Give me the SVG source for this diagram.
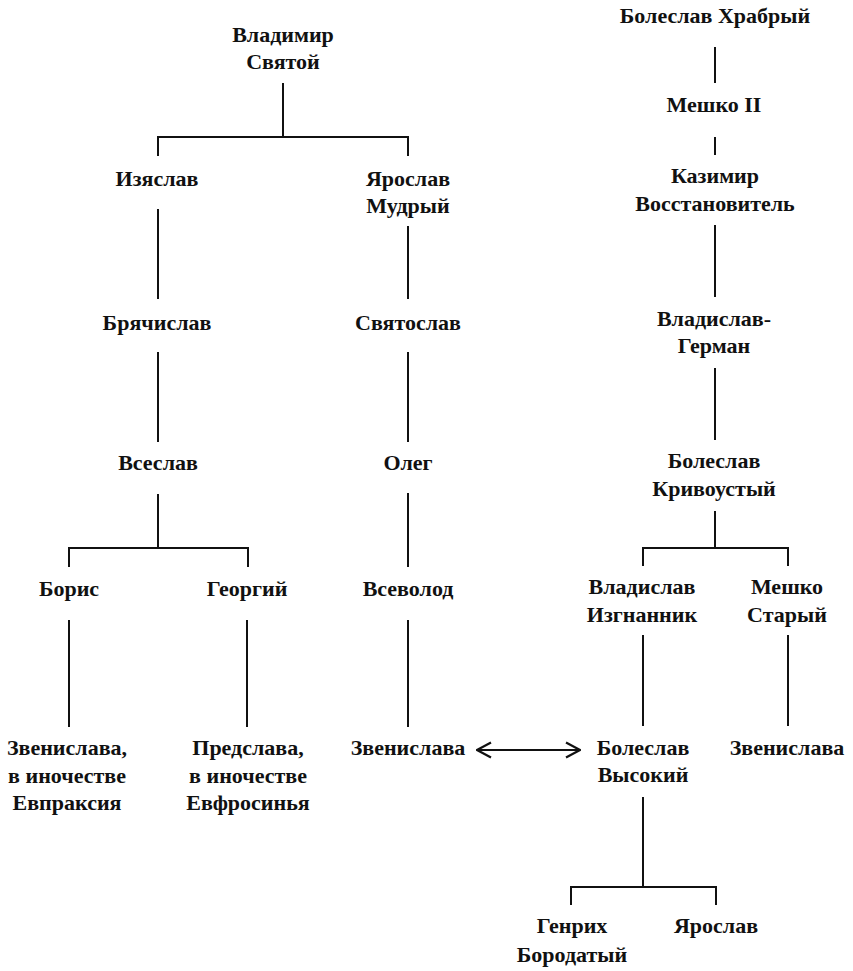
<svg xmlns="http://www.w3.org/2000/svg" width="853" height="971" viewBox="0 0 853 971">
<style>
text{font-family:"Liberation Serif","DejaVu Serif",serif;font-size:22px;font-weight:bold;fill:#111;text-anchor:middle}
.c line,.c path{stroke:#111;stroke-width:2;fill:none}
</style>
<defs>
<marker id="ah" viewBox="0 0 16 18" refX="15" refY="9" markerWidth="16" markerHeight="18" markerUnits="userSpaceOnUse" orient="auto-start-reverse">
<path d="M1,1.5 L15,9 L1,16.5" fill="none" stroke="#111" stroke-width="2.2"/>
</marker>
</defs>
<rect width="853" height="971" fill="#fff"/>
<g class="c" id="connectors">
<path d="M283,83 V137 M158,156 V137 H408 V156"/>
<line x1="158" y1="209" x2="158" y2="299"/>
<line x1="408" y1="226" x2="408" y2="299"/>
<line x1="158" y1="352" x2="158" y2="442"/>
<line x1="408" y1="352" x2="408" y2="442"/>
<path d="M158,494 V548 M69,567 V548 H248 V567"/>
<line x1="408" y1="493" x2="408" y2="567"/>
<line x1="69" y1="620" x2="69" y2="727"/>
<line x1="247" y1="620" x2="247" y2="727"/>
<line x1="408" y1="620" x2="408" y2="727"/>
<line x1="477" y1="750" x2="580" y2="750" marker-start="url(#ah)" marker-end="url(#ah)"/>
<path d="M643,797 V887 M571,905 V887 H716 V905"/>
<line x1="715" y1="47" x2="715" y2="83"/>
<line x1="715" y1="137" x2="715" y2="155"/>
<line x1="715" y1="225" x2="715" y2="297"/>
<line x1="715" y1="368" x2="715" y2="440"/>
<path d="M715,511 V548 M643,566 V548 H788 V566"/>
<line x1="643" y1="635" x2="643" y2="726"/>
<line x1="788" y1="635" x2="788" y2="726"/>
</g>
<g id="vladimir"><text x="283" y="42">Владимир</text><text x="283" y="69">Святой</text></g>
<g id="izyaslav"><text x="157" y="186">Изяслав</text></g>
<g id="yaroslav-mudry"><text x="408" y="186">Ярослав</text><text x="408" y="213">Мудрый</text></g>
<g id="bryachislav"><text x="157" y="330">Брячислав</text></g>
<g id="svyatoslav"><text x="408" y="330">Святослав</text></g>
<g id="vseslav"><text x="158" y="470">Всеслав</text></g>
<g id="oleg"><text x="408" y="470">Олег</text></g>
<g id="boris"><text x="69" y="596">Борис</text></g>
<g id="georgy"><text x="247" y="596">Георгий</text></g>
<g id="vsevolod"><text x="408" y="596">Всеволод</text></g>
<g id="zvenislava1"><text x="67" y="755">Звенислава,</text><text x="67" y="783">в иночестве</text><text x="67" y="810">Евпраксия</text></g>
<g id="predslava"><text x="248" y="755">Предслава,</text><text x="248" y="783">в иночестве</text><text x="248" y="810">Евфросинья</text></g>
<g id="zvenislava2"><text x="408" y="755">Звенислава</text></g>
<g id="boleslav-vysoky"><text x="643" y="755">Болеслав</text><text x="643" y="782">Высокий</text></g>
<g id="zvenislava3"><text x="787" y="755">Звенислава</text></g>
<g id="genrikh"><text x="572" y="933">Генрих</text><text x="572" y="962">Бородатый</text></g>
<g id="yaroslav2"><text x="716" y="933">Ярослав</text></g>
<g id="boleslav-khrabry"><text x="715" y="23">Болеслав Храбрый</text></g>
<g id="mieszko2"><text x="714" y="112">Мешко II</text></g>
<g id="kazimir"><text x="715" y="183">Казимир</text><text x="715" y="211">Восстановитель</text></g>
<g id="vladislav-german"><text x="714" y="326">Владислав-</text><text x="714" y="353">Герман</text></g>
<g id="boleslav-krivousty"><text x="714" y="468">Болеслав</text><text x="714" y="496">Кривоустый</text></g>
<g id="vladislav-izgnannik"><text x="642" y="594">Владислав</text><text x="642" y="622">Изгнанник</text></g>
<g id="mieszko-stary"><text x="787" y="594">Мешко</text><text x="787" y="622">Старый</text></g>
</svg>
